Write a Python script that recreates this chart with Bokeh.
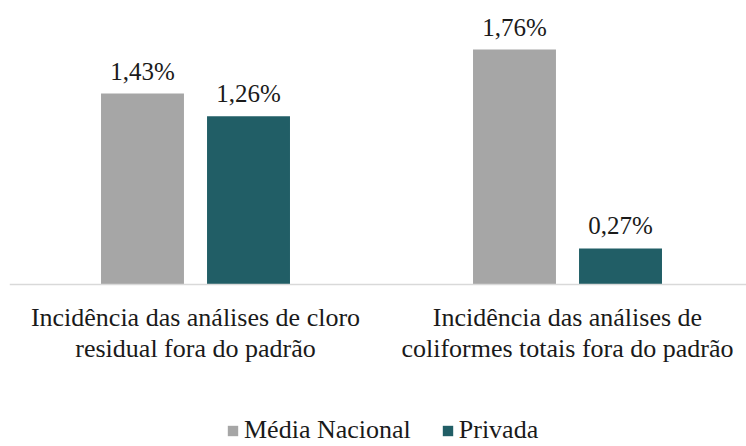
from bokeh.plotting import figure
from bokeh.models import ColumnDataSource, Range1d, LinearAxis, FixedTicker, Legend, LegendItem, LabelSet
from bokeh.embed import file_html
from bokeh.resources import INLINE

# ---- data ----
categories = ["Incidência das análises de cloro\nresidual fora do padrão",
              "Incidência das análises de\ncoliformes totais fora do padrão"]
cat_pos = [0.5, 1.5]
series_names = ["Média Nacional", "Privada"]
media_nacional = [1.43, 1.76]
privada = [1.26, 0.27]
label_media = ["1,43%", "1,76%"]
label_privada = ["1,26%", "0,27%"]

GRAY = "#A6A6A6"
TEAL = "#215E66"
TXT = "#1a1a1a"
FONT = "Liberation Serif"

OFF = 0.1425
BW = 0.223
PX_PER_UNIT = 133.5

src_g = ColumnDataSource(dict(x=[c - OFF for c in cat_pos], y=media_nacional, lab=label_media))
src_t = ColumnDataSource(dict(x=[c + OFF for c in cat_pos], y=privada, lab=label_privada))

p = figure(width=746, height=446, output_backend="svg", toolbar_location=None,
           x_range=Range1d(0, 737 / 372), y_range=Range1d(-162 / PX_PER_UNIT, 2.0),
           x_axis_location=None, y_axis_location=None,
           min_border_left=9, min_border_right=0, min_border_top=17, min_border_bottom=0)
p.outline_line_color = None
p.xgrid.visible = False
p.ygrid.visible = False

rg = p.vbar(x="x", top="y", width=BW, source=src_g, fill_color=GRAY, line_color=None)
rt = p.vbar(x="x", top="y", width=BW, source=src_t, fill_color=TEAL, line_color=None)

for s in (src_g, src_t):
    p.add_layout(LabelSet(x="x", y="y", text="lab", source=s, text_align="center",
                          text_baseline="alphabetic", y_offset=14,
                          text_font=FONT, text_font_size="25px", text_color=TXT))

xaxis = LinearAxis(ticker=FixedTicker(ticks=cat_pos), fixed_location=0,
                   major_label_overrides={cat_pos[i]: categories[i] for i in range(2)})
xaxis.axis_line_color = "#D9D9D9"
xaxis.axis_line_width = 1.5
xaxis.major_tick_line_color = None
xaxis.minor_tick_line_color = None
xaxis.major_label_text_font = FONT
xaxis.major_label_text_font_size = "26px"
xaxis.major_label_text_color = TXT
xaxis.major_label_text_line_height = 1.1
xaxis.major_label_standoff = 12
p.add_layout(xaxis, "below")

legend = Legend(items=[LegendItem(label=series_names[0], renderers=[rg]),
                       LegendItem(label=series_names[1], renderers=[rt])],
                orientation="horizontal", location=(217, 1),
                glyph_width=13, glyph_height=13, label_standoff=5, spacing=30,
                padding=0, margin=0, border_line_color=None, background_fill_alpha=0,
                label_text_font=FONT, label_text_font_size="26px", label_text_color=TXT)
p.add_layout(legend)

open("out.html", "w").write(file_html(p, INLINE))
